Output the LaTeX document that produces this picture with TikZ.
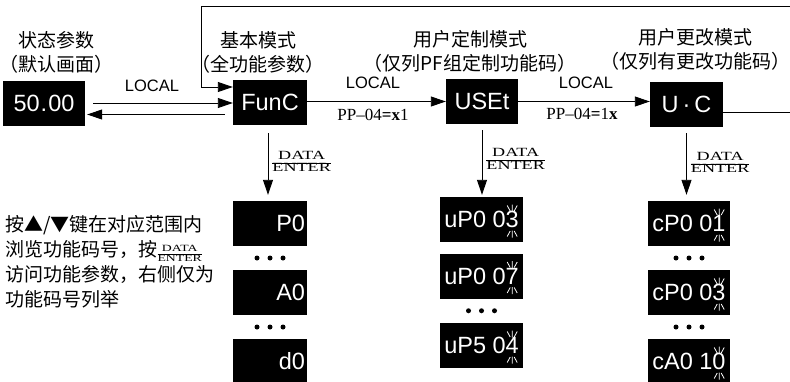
\documentclass[tikz,border=0pt]{standalone}
\usepackage{graphicx}
\usepackage{fontspec}
\setmainfont{Liberation Serif}
\setsansfont{Liberation Sans}
\newfontfamily\cjk{Noto Sans CJK SC}
\usetikzlibrary{arrows.meta,calc}
\newcommand{\dataenter}{\scalebox{1.45}[1]{\renewcommand{\arraystretch}{0.95}\begin{tabular}{@{}c@{}}DATA\\\hline ENTER\end{tabular}}}
\tikzset{
  ledbox/.style={fill=black,text=white,minimum height=45pt,inner sep=2pt,font=\sffamily\fontsize{23.5}{23.5}\selectfont},
  modetitle/.style={align=center,font=\cjk\fontsize{19}{24}\selectfont},
  keylabel/.style={font=\sffamily\fontsize{16.5}{17}\selectfont},
  parlabel/.style={font=\rmfamily\fontsize{17}{17}\selectfont},
  fraclabel/.style={font=\rmfamily\fontsize{12.5}{12.5}\selectfont,inner sep=1pt},
  arrow/.style={-{Triangle[length=15pt,width=10pt]},line width=0.9pt},
  blink/.pic={
    \draw[white,line width=0.8pt] (0,-15) -- (0,-8) (-5,-14) -- (-2,-8.5) (5,-14) -- (2,-8.5)
      (0,11) -- (0,18) (-2,11.5) -- (-5,17) (2,11.5) -- (5,17);
  }
}

\begin{document}
\begin{tikzpicture}[x=1pt,y=-1pt,font=\sffamily\small]
\useasboundingbox (0,0) rectangle (790,381);
\node[modetitle] (t0) at (56,52) {状态参数\\（默认画面）};
\node[modetitle] (t1) at (258,52) {基本模式\\（全功能参数）};
\node[modetitle] (t2) at (470,51) {用户定制模式\\（仅列PF组定制功能码）};
\node[modetitle] (t3) at (695,49) {用户更改模式\\（仅列有更改功能码）};

\node[ledbox,minimum width=82pt] (status) at (44,103) {50\kern1pt.\kern1pt00};
\node[ledbox,minimum width=74pt] (func) at (270,102.5) {FunC};
\node[ledbox,minimum width=72pt] (uset) at (482,101.5) {USEt};
\node[ledbox,minimum width=73pt] (uc) at (686.5,104.5) {U\,·\,C};

\node[ledbox,text width=70pt,align=right] (p0) at (270,223.5) {P0};
\node[ledbox,text width=70pt,align=right] (a0) at (270,292.5) {A0};
\node[ledbox,text width=70pt,align=right] (d0) at (270,361.5) {d0};
\node[ledbox,minimum width=83pt] (up1) at (481.5,219.5) {uP0 03};
\node[ledbox,minimum width=83pt] (up2) at (481.5,276) {uP0 07};
\node[ledbox,minimum width=83pt] (up3) at (481.5,345.5) {uP5 04};
\node[ledbox,minimum width=82pt] (cp1) at (689,223.5) {cP0 01};
\node[ledbox,minimum width=82pt] (cp2) at (689,292.5) {cP0 03};
\node[ledbox,minimum width=82pt] (cp3) at (689,361.5) {cA0 10};
\foreach \n in {up1,up2,up3,cp1,cp2,cp3}
  \pic at ([xshift=-11pt]\n.east) {blink};

\node[keylabel] (loc1) at (152,86) {LOCAL};
\node[keylabel] (loc2) at (373,83) {LOCAL};
\node[keylabel] (loc3) at (586,83) {LOCAL};
\node[parlabel] (pp1) at (373,115) {PP--04\textbf{=x}1};
\node[parlabel] (pp2) at (582,114) {PP--04\textbf{=}1\textbf{x}};

\draw[arrow,shorten <=8pt] (status.east) -- (status.east -| func.west);
\draw[arrow,shorten <=8pt,shorten >=2pt] ([yshift=-12pt]func.west) -- ([yshift=-12pt]func.west -| status.east);
\draw[arrow] (func.east |- uset.west) -- (uset.west);
\draw[arrow] (uset.east) -- (uset.east -| uc.west);
\coordinate (loopR) at (795,6);
\coordinate (loopL) at (201,6);
\draw[arrow] ([yshift=-7.5pt]uc.east) -| (loopR) -- (loopL) |- ([yshift=15.5pt]func.west);

\draw[arrow,shorten <=8pt,shorten >=6pt] ([xshift=-2pt]func.south) -- ([xshift=-2pt]func.south |- p0.north)
  node[midway,right=3pt,fraclabel] {\dataenter};
\draw[arrow,shorten <=6pt,shorten >=2pt] (uset.south) -- (uset.south |- up1.north)
  node[midway,right=3pt,fraclabel] {\dataenter};
\draw[arrow,shorten <=6pt,shorten >=6pt] (uc.south) -- (uc.south |- cp1.north)
  node[midway,right=3pt,fraclabel] {\dataenter};

\foreach \a/\b in {p0/a0,a0/d0,up2/up3,cp1/cp2,cp2/cp3}
  \foreach \k in {-1,0,1}
    \fill ($(\a.south)!0.5!(\b.north)$) ++(\k*13,0) circle (2.5pt);

\node[anchor=west,align=left,font=\cjk\fontsize{19}{25}\selectfont] (hint) at (2,262)
  {按▲/▼键在对应范围内\\浏览功能码号，按{\rmfamily\fontsize{9.5}{9.5}\selectfont\dataenter}\\访问功能参数，右侧仅为\\功能码号列举};
\end{tikzpicture}
\end{document}
